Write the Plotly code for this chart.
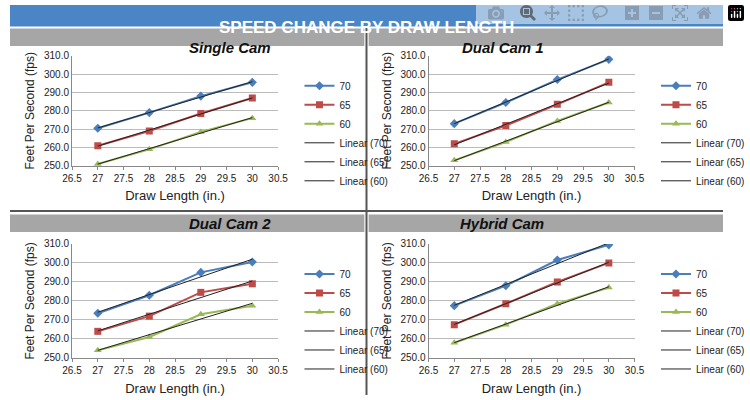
import numpy as np
import plotly.graph_objects as go

draw_length = [27, 28, 29, 30]
panel_titles = ["Single Cam", "Dual Cam 1", "Dual Cam 2", "Hybrid Cam"]
series_names = ["70", "65", "60"]
single_cam = {"70": [270.5, 279, 288, 295.5], "65": [261, 269, 278.5, 287], "60": [251, 259, 268.5, 276]}
dual_cam_1 = {"70": [273, 284.5, 297, 308], "65": [262, 272, 283.5, 295.5], "60": [253, 263, 274.5, 284.5]}
dual_cam_2 = {"70": [273.5, 283, 295, 300.5], "65": [264, 272, 284.5, 289], "60": [254, 261, 273, 277.5]}
hybrid_cam = {"70": [277.5, 288, 301.5, 309.5], "65": [267.5, 278.5, 290, 300], "60": [258, 267.5, 278.5, 287]}
panels = [single_cam, dual_cam_1, dual_cam_2, hybrid_cam]

colors = {"70": "#4a7ebb", "65": "#be4b48", "60": "#98b954"}
symbols = {"70": "diamond", "65": "square", "60": "triangle-up"}

xdoms = [[0.087, 0.376], [0.587, 0.876]]
ydoms = [[0.5875, 0.87], [0.095, 0.3875]]

fig = go.Figure()
layout = dict(width=750, height=400, margin=dict(l=0, r=0, t=0, b=0),
              paper_bgcolor="white", plot_bgcolor="white", showlegend=True,
              font=dict(family="Liberation Sans, Arial", color="#222"))
shapes = []
annotations = []
for i, data in enumerate(panels):
    r, c = divmod(i, 2)
    ax = "" if i == 0 else str(i + 1)
    leg = "legend" if i == 0 else f"legend{i+1}"
    for n in series_names:
        fig.add_trace(go.Scatter(x=draw_length, y=data[n], name=n, mode="lines+markers",
                                 line=dict(color=colors[n], width=2),
                                 marker=dict(symbol=symbols[n], size=7, color=colors[n]),
                                 xaxis="x" + ax, yaxis="y" + ax, legend=leg))
    for n in series_names:
        k, b = np.polyfit(draw_length, data[n], 1)
        fig.add_trace(go.Scatter(x=draw_length, y=[k * x + b for x in draw_length], name=f"Linear ({n})",
                                 mode="lines", line=dict(color="#222", width=1),
                                 xaxis="x" + ax, yaxis="y" + ax, legend=leg))
    layout["xaxis" + ax] = dict(domain=xdoms[c], range=[26.5, 30.5], dtick=0.5, anchor="y" + ax,
                                showline=True, linecolor="#888", ticks="outside", ticklen=3, tickcolor="#888",
                                showgrid=False, tickfont=dict(size=10),
                                title=dict(text="Draw Length (in.)", font=dict(size=13), standoff=8))
    layout["yaxis" + ax] = dict(domain=ydoms[r], range=[250, 310], dtick=10, tickformat=".1f", anchor="x" + ax,
                                showline=True, linecolor="#888", gridcolor="#bbb", tickfont=dict(size=10),
                                title=dict(text="Feet Per Second (fps)", font=dict(size=12), standoff=6))
    layout[leg] = dict(x=xdoms[c][1] + 0.03, y=ydoms[r][1] - 0.04, xanchor="left", yanchor="top",
                       font=dict(size=10), tracegroupgap=2, bgcolor="rgba(0,0,0,0)")
    hx0, hx1 = (0.0, 0.497) if c == 0 else (0.503, 1.0)
    hy = [(0.895, 0.94), (0.418, 0.463)][r]
    shapes.append(dict(type="rect", xref="paper", yref="paper", x0=hx0, x1=hx1, y0=hy[0], y1=hy[1],
                       fillcolor="#a6a6a6", line=dict(width=0), layer="below"))
    annotations.append(dict(text=f"<b><i>{panel_titles[i]}</i></b>", xref="paper", yref="paper",
                            x=(hx0 + hx1) / 2, y=(hy[0] + hy[1]) / 2, showarrow=False,
                            font=dict(size=15, color="#111")))

shapes.append(dict(type="rect", xref="paper", yref="paper", x0=0, x1=1, y0=0.945, y1=1,
                   fillcolor="#4a86c5", line=dict(width=0)))
shapes.append(dict(type="line", xref="paper", yref="paper", x0=0.5, x1=0.5, y0=0, y1=0.945,
                   line=dict(color="#555", width=2)))
shapes.append(dict(type="line", xref="paper", yref="paper", x0=0, x1=1, y0=0.472, y1=0.472,
                   line=dict(color="#555", width=2)))
annotations.append(dict(text="<b>SPEED CHANGE BY DRAW LENGTH</b>", xref="paper", yref="paper",
                        x=0.5, y=0.972, showarrow=False, font=dict(size=17, color="white")))
layout["shapes"] = shapes
layout["annotations"] = annotations
fig.update_layout(**layout)
fig.write_html("out.html", post_script="document.body.style.margin='0';document.body.style.overflow='hidden';")
